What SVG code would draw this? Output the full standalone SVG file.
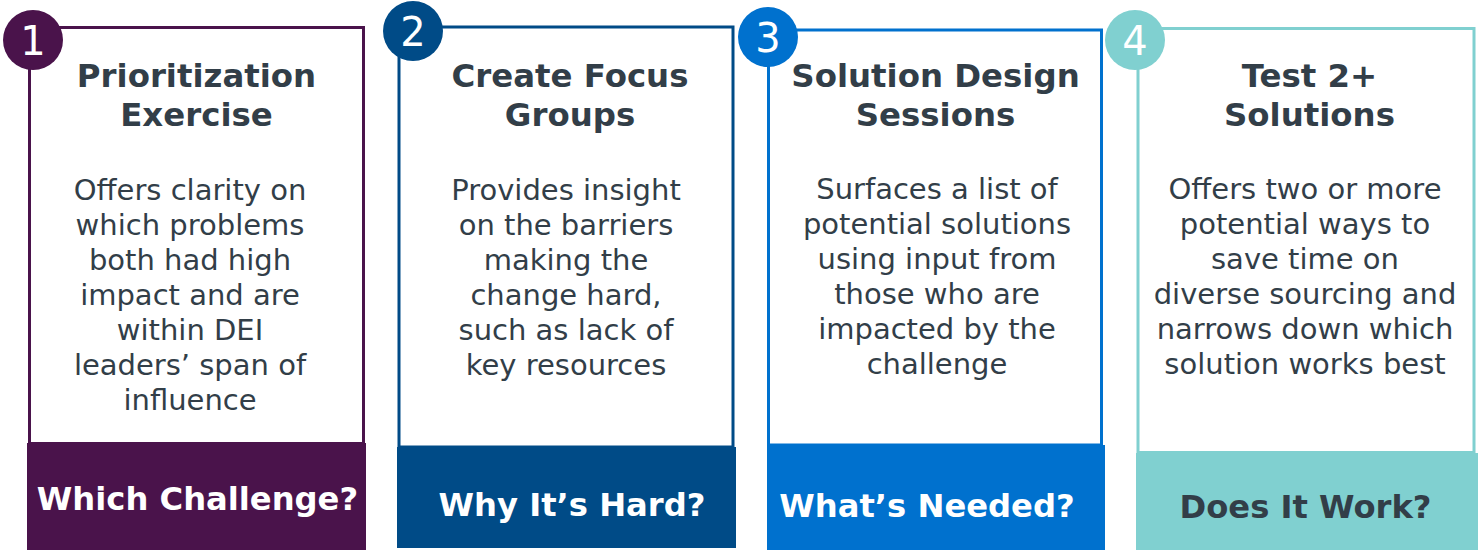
<svg xmlns="http://www.w3.org/2000/svg" width="1478" height="550" viewBox="0 0 1478 550">
<style>
.title{font-family:"DejaVu Sans","Verdana",sans-serif;font-weight:bold;font-size:32.4px;fill:#323e48;text-anchor:middle}
.body{font-family:"DejaVu Sans","Verdana",sans-serif;font-size:29px;fill:#323e48;text-anchor:middle}
.band{font-family:"DejaVu Sans","Verdana",sans-serif;font-weight:bold;font-size:32.2px;text-anchor:middle}
.num{font-family:"DejaVu Sans","Verdana",sans-serif;font-size:40px;fill:#ffffff;text-anchor:middle}
.box{fill:#ffffff;stroke-width:3}
</style>
<rect width="1478" height="550" fill="#ffffff"/>
<g id="step1">
<rect class="box" x="29.5" y="27.5" width="334" height="416" stroke="#4a134b"/>
<rect x="27" y="443" width="339" height="107" fill="#4a134b"/>
<circle cx="33" cy="40" r="30" fill="#4a134b"/>
<text class="num" x="33" y="55">1</text>
<text class="title" x="196.5" y="87">Prioritization</text>
<text class="title" x="196.5" y="126">Exercise</text>
<text class="body" x="190" y="200">Offers clarity on</text>
<text class="body" x="190" y="235">which problems</text>
<text class="body" x="190" y="270">both had high</text>
<text class="body" x="190" y="305">impact and are</text>
<text class="body" x="190" y="340">within DEI</text>
<text class="body" x="190" y="375">leaders’ span of</text>
<text class="body" x="190" y="410">influence</text>
<text class="band" x="197.5" y="510" fill="#ffffff">Which Challenge?</text>
</g>
<g id="step2">
<rect class="box" x="399" y="27" width="334" height="420" stroke="#004b87"/>
<rect x="397" y="447" width="339" height="101" fill="#004b87"/>
<circle cx="413" cy="31" r="30" fill="#004b87"/>
<text class="num" x="413" y="46">2</text>
<text class="title" x="570" y="87">Create Focus</text>
<text class="title" x="570" y="126">Groups</text>
<text class="body" x="566" y="200">Provides insight</text>
<text class="body" x="566" y="235">on the barriers</text>
<text class="body" x="566" y="270">making the</text>
<text class="body" x="566" y="305">change hard,</text>
<text class="body" x="566" y="340">such as lack of</text>
<text class="body" x="566" y="375">key resources</text>
<text class="band" x="572" y="516" fill="#ffffff">Why It’s Hard?</text>
</g>
<g id="step3">
<rect class="box" x="768.5" y="30" width="333" height="415" stroke="#0071ce"/>
<rect x="767" y="445" width="338" height="105" fill="#0071ce"/>
<circle cx="768" cy="37" r="30" fill="#0071ce"/>
<text class="num" x="768" y="52">3</text>
<text class="title" x="935.5" y="87">Solution Design</text>
<text class="title" x="935.5" y="126">Sessions</text>
<text class="body" x="937" y="199">Surfaces a list of</text>
<text class="body" x="937" y="234">potential solutions</text>
<text class="body" x="937" y="269">using input from</text>
<text class="body" x="937" y="304">those who are</text>
<text class="body" x="937" y="339">impacted by the</text>
<text class="body" x="937" y="374">challenge</text>
<text class="band" x="927" y="517" fill="#ffffff">What’s Needed?</text>
</g>
<g id="step4">
<rect class="box" x="1138" y="28.5" width="336" height="424" stroke="#80d0d0"/>
<rect x="1136" y="453" width="342" height="97" fill="#80d0d0"/>
<circle cx="1135" cy="40" r="30" fill="#80d0d0"/>
<text class="num" x="1135" y="55">4</text>
<text class="title" x="1309.5" y="87">Test 2+</text>
<text class="title" x="1309.5" y="126">Solutions</text>
<text class="body" x="1305" y="199">Offers two or more</text>
<text class="body" x="1305" y="234">potential ways to</text>
<text class="body" x="1305" y="269">save time on</text>
<text class="body" x="1305" y="304">diverse sourcing and</text>
<text class="body" x="1305" y="339">narrows down which</text>
<text class="body" x="1305" y="374">solution works best</text>
<text class="band" x="1305.5" y="518" fill="#323e48">Does It Work?</text>
</g>
<g id="connectors"></g>
</svg>
